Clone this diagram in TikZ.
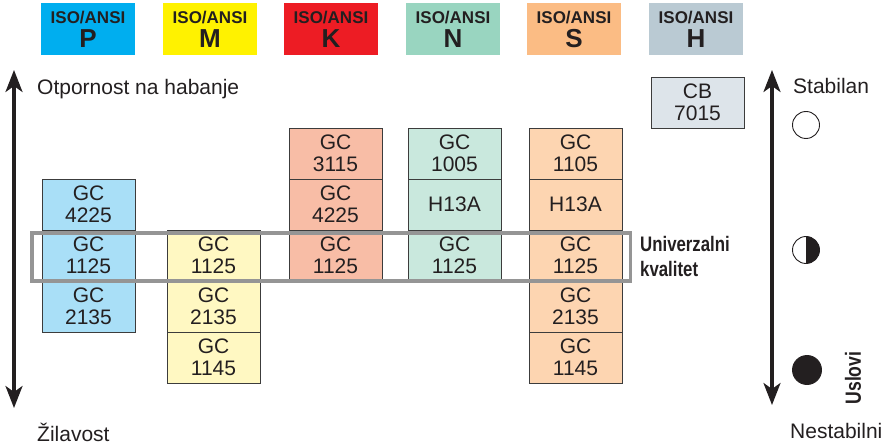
\documentclass[tikz,border=0pt]{standalone}
\usepackage{fontspec}
\setmainfont{Liberation Sans}
\newfontfamily\condfont{Liberation Sans}[FakeStretch=0.8]
\usetikzlibrary{arrows.meta,positioning}
\definecolor{Ink}{HTML}{231F20}
\definecolor{IsoP}{HTML}{00AEEF}
\definecolor{IsoM}{HTML}{FFF200}
\definecolor{IsoK}{HTML}{ED1C24}
\definecolor{IsoN}{HTML}{99D5C0}
\definecolor{IsoS}{HTML}{FBBC84}
\definecolor{IsoH}{HTML}{BACAD3}
\definecolor{CellP}{HTML}{A9DFF7}
\definecolor{CellM}{HTML}{FFF8C2}
\definecolor{CellK}{HTML}{F8BDA6}
\definecolor{CellN}{HTML}{C9E8DD}
\definecolor{CellS}{HTML}{FDD5B1}
\definecolor{CellH}{HTML}{DDE4EA}
\definecolor{CellLine}{HTML}{3C3C3C}
\definecolor{UnivGray}{HTML}{959595}
\newcommand\isohead[1]{ISO/ANSI\\{\fontsize{26}{24}\selectfont #1}}

\begin{document}
\begin{tikzpicture}[x=1pt,y=-1pt,
  hdr/.style={fill=#1,minimum width=94pt,minimum height=52pt,inner sep=0pt,outer sep=0pt,align=center,text=Ink,font=\bfseries\fontsize{17}{24}\selectfont,anchor=north west},
  cell/.style={draw=CellLine,line width=0.9pt,fill=#1,minimum width=93pt,minimum height=51pt,inner sep=0pt,outer sep=0pt,align=center,text=Ink,font=\fontsize{21}{22}\selectfont},
  sidetext/.style={inner sep=0pt,text=Ink,font=\fontsize{21}{24}\selectfont},
  bigarrow/.style={line width=3.2pt,Ink,{Stealth[length=22pt,width=17pt,inset=6pt]}-{Stealth[length=22pt,width=17pt,inset=6pt]}},
  dot/.style={circle,draw=Ink,line width=0.9pt,inner sep=0pt,minimum size=#1},
  univbox/.style={draw=UnivGray,line width=3.2pt},
]
\useasboundingbox (0,0) rectangle (889,446);
% header row
\node[hdr=IsoP] (hp) at (41,3) {\isohead{P}};
\node[hdr=IsoM] (hm) at (163,3) {\isohead{M}};
\node[hdr=IsoK] (hk) at (284,3) {\isohead{K}};
\node[hdr=IsoN] (hn) at (406,3) {\isohead{N}};
\node[hdr=IsoS] (hs) at (527,3) {\isohead{S}};
\node[hdr=IsoH] (hh) at (649,3) {\isohead{H}};

% P
\node[cell=CellP,anchor=north west] (p1) at (42,179) {GC\\4225};
\node[cell=CellP,below=0pt of p1] (p2) {GC\\1125};
\node[cell=CellP,below=0pt of p2] (p3) {GC\\2135};
% M
\node[cell=CellM,anchor=north west] (m1) at (167,230) {GC\\1125};
\node[cell=CellM,below=0pt of m1] (m2) {GC\\2135};
\node[cell=CellM,below=0pt of m2] (m3) {GC\\1145};
% K
\node[cell=CellK,anchor=north west] (k1) at (289,128) {GC\\3115};
\node[cell=CellK,below=0pt of k1] (k2) {GC\\4225};
\node[cell=CellK,below=0pt of k2] (k3) {GC\\1125};
% N
\node[cell=CellN,anchor=north west] (n1) at (408,128) {GC\\1005};
\node[cell=CellN,below=0pt of n1] (n2) {H13A};
\node[cell=CellN,below=0pt of n2] (n3) {GC\\1125};
% S
\node[cell=CellS,anchor=north west] (s1) at (529,128) {GC\\1105};
\node[cell=CellS,below=0pt of s1] (s2) {H13A};
\node[cell=CellS,below=0pt of s2] (s3) {GC\\1125};
\node[cell=CellS,below=0pt of s3] (s4) {GC\\2135};
\node[cell=CellS,below=0pt of s4] (s5) {GC\\1145};
% H
\node[cell=CellH,anchor=north west] (h1) at (651,77) {CB\\7015};

% universal grades
\draw[univbox] (32,233) rectangle (630.5,281);
\node[anchor=west,inner sep=0pt,align=left,text=Ink,font=\condfont\bfseries\fontsize{21}{25}\selectfont] (univ) at (640,256) {Univerzalni\\kvalitet};

% left axis
\coordinate (lt) at (14,70);
\coordinate (lb) at (14,408);
\draw[bigarrow] (lb) -- (lt);
\node[sidetext,anchor=base west] (wear) at (37,95) {Otpornost na habanje};
\node[sidetext,anchor=base west] (tough) at (37,441) {Žilavost};

% right axis
\coordinate (rt) at (772,70);
\coordinate (rb) at (772,405);
\draw[bigarrow] (rb) -- (rt);
\node[sidetext,anchor=base west] (stab) at (793,94) {Stabilan};
\node[sidetext,anchor=base west] (unstab) at (790,438) {Nestabilni};
\node[dot=27pt] (c1) at (806,125) {};
\node[dot=27pt,path picture={\fill[Ink] (path picture bounding box.north) rectangle (path picture bounding box.south east);}] (c2) at (806,250) {};
\node[dot=29pt,fill=Ink] (c3) at (807,370) {};
\node[rotate=90,inner sep=0pt,text=Ink,font=\condfont\bfseries\fontsize{22}{22}\selectfont] (cond) at (853,378) {Uslovi};
\end{tikzpicture}
\end{document}
